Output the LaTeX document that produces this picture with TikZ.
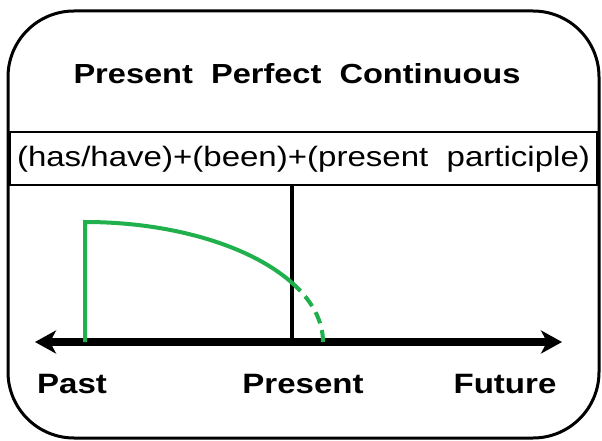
\documentclass[tikz,border=0pt]{standalone}
\usepackage{fontspec}
\setmainfont[FakeStretch=1.18]{Liberation Sans}
\usetikzlibrary{arrows.meta,positioning,calc}
\definecolor{tgreen}{RGB}{32,176,76}

\begin{document}
\begin{tikzpicture}[x=1pt, y=-1pt,
		title/.style={font=\fontsize{27.6}{30}\selectfont\bfseries, inner sep=0pt},
		rule/.style={draw, line width=1.2pt, minimum width=587pt, minimum height=53pt,
			font=\fontsize{27.5}{30}\selectfont, inner sep=0pt},
		lbl/.style={font=\fontsize{28}{30}\selectfont\bfseries, inner sep=0pt},
		axis/.style={line width=8pt, {Stealth[length=21pt, width=23pt, inset=6pt]}-{Stealth[length=21pt, width=23pt, inset=6pt]}},
		span/.style={line width=4pt, tgreen}
		]
		\useasboundingbox (0,0) rectangle (602,441);
		% ── Frame ──
		\draw[line width=3pt, rounded corners=66pt] (8,11) rectangle (599,438);
		
		% ── Title and rule ──
		\node[title, anchor=base] (ttl) at (297,84) {Present\ \ Perfect\ \ Continuous};
		\node[rule] (form) at (303.5,158.5) {};
		\node[font=\fontsize{28}{30}\selectfont, inner sep=0pt, anchor=base] (ftext) at (303.5,166) {(has/have)+(been)+(present\ \ participle)};
		
		% ── Time line ──
		\coordinate (west) at (35,342);
		\coordinate (east) at (562,342);
		\coordinate (now) at (292,342);
		\draw[axis] (west) -- (east);
		\draw[line width=4pt] (form.south -| now) -- (now);
		
		\node[lbl, anchor=base west] (past) at (37,393) {Past};
		\node[lbl, anchor=base] (pres) at (303,393) {Present};
		\node[lbl, anchor=base] (fut) at (505,393) {Future};
		
		% ── Action span ──
		\coordinate (start) at (85,342);
		\draw[span] (start) -- ++(0,-120) coordinate (top)
			arc[start angle=-90, end angle=-29.6, x radius=238, y radius=120] coordinate (cut);
		\draw[span, dash pattern=on 12pt off 7pt] (cut)
			arc[start angle=-29.6, end angle=0, x radius=238, y radius=120];
	\end{tikzpicture}
\end{document}
